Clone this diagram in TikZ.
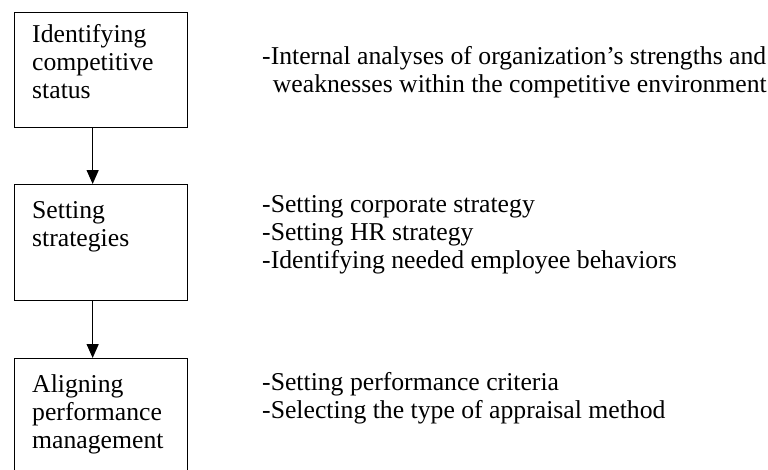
\documentclass[tikz,border=0pt]{standalone}
\usepackage{fontspec}
\setmainfont{Liberation Serif}
\usetikzlibrary{positioning, arrows.meta}

\begin{document}
\begin{tikzpicture}[x=1pt, y=-1pt,
        % Styles
        stagebox/.style={
            draw,
            line width=1.3pt,
            anchor=north west,
            inner sep=0pt,
            minimum width=173pt,
            minimum height=115pt
        },
        stagetext/.style={
            anchor=base west,
            align=left,
            inner sep=0pt,
            font=\fontsize{25.7}{27.8}\selectfont
        },
        flow/.style={line width=1.3pt, -{Triangle[length=14pt, width=12pt]}}
    ]
    \useasboundingbox (0,0) rectangle (768,469);
    \clip (0,0) rectangle (768,469);

        % Nodes (text nodes sit on the baseline of their last line)
        \node[stagebox] (status) at (14,12) {};
        \node[stagebox, minimum height=116pt] (strategies) at (14,184) {};
        \node[stagebox, minimum height=130pt] (aligning) at (14,358) {};

        \node[stagetext] (statuslabel) at (32,98) {Identifying\\competitive\\status};
        \node[stagetext] (strategieslabel) at (32,246) {Setting\\strategies};
        \node[stagetext] (aligninglabel) at (32,448) {Aligning\\performance\\management};

        \node[stagetext] (statusnote) at (262,92) {-Internal analyses of organization’s strengths and\\\ \,weaknesses within the competitive environment};
        \node[stagetext] (strategiesnote) at (262,268) {-Setting corporate strategy\\-Setting HR strategy\\-Identifying needed employee behaviors};
        \node[stagetext] (aligningnote) at (262,418) {-Setting performance criteria\\-Selecting the type of appraisal method};

        % Lines
        \draw[flow] ([xshift=-8.5pt]status.south) -- ([xshift=-8.5pt]strategies.north);
        \draw[flow] ([xshift=-8.5pt]strategies.south) -- ([xshift=-8.5pt]aligning.north);

    \end{tikzpicture}
\end{document}
